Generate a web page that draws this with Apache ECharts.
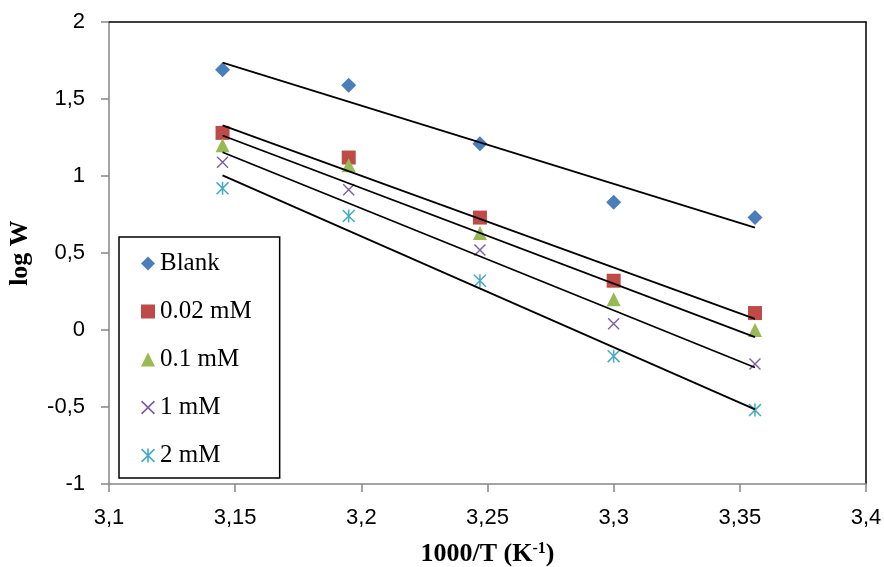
<!DOCTYPE html>
<html lang="en">
<head>
    <meta charset="UTF-8">
    <title>log W vs 1000/T</title>
    <script src="https://cdn.jsdelivr.net/npm/echarts@6/dist/echarts.min.js"></script>
</head>
<style>
    html, body { margin: 0; padding: 0; background: #ffffff; }
    #chart { width: 884px; height: 567px; }
</style>
<body>
<div id="chart"></div>
<script type="text/javascript">
    // 1000/T values (K^-1)
    const invT = [3.145, 3.195, 3.247, 3.300, 3.356];
    // log W for each concentration
    const blank = [1.69, 1.59, 1.21, 0.83, 0.73];
    const c002 = [1.28, 1.12, 0.73, 0.32, 0.11];
    const c01 = [1.20, 1.07, 0.63, 0.20, 0.00];
    const c1 = [1.09, 0.91, 0.52, 0.04, -0.22];
    const c2 = [0.92, 0.74, 0.32, -0.17, -0.52];
    const names = ['Blank', '0.02 mM', '0.1 mM', '1 mM', '2 mM'];
    const values = [blank, c002, c01, c1, c2];
    const colors = ['#4A7EBB', '#BE4B48', '#98B954', '#7D60A0', '#46AAC5'];

    // markers: diamond, square, triangle, x, asterisk
    const xPath = 'path://M0,1L1,0L12,11L11,12Z M11,0L12,1L1,12L0,11Z';
    const starPath = 'path://M0,1L1,0L12,11L11,12Z M11,0L12,1L1,12L0,11Z M5.3,0L6.7,0L6.7,12L5.3,12Z';
    const symbols = ['diamond', 'rect', 'triangle', xPath, starPath];
    const sizes = [15, 14, 14, 12, 13];

    // least-squares trend line over the data range
    function trend(xs, ys) {
        let n = xs.length, mx = 0, my = 0;
        for (let i = 0; i < n; i++) { mx += xs[i]; my += ys[i]; }
        mx /= n; my /= n;
        let sxy = 0, sxx = 0;
        for (let i = 0; i < n; i++) {
            sxy += (xs[i] - mx) * (ys[i] - my);
            sxx += (xs[i] - mx) * (xs[i] - mx);
        }
        const b = sxy / sxx, a = my - b * mx;
        return [[xs[0], a + b * xs[0]], [xs[n - 1], a + b * xs[n - 1]]];
    }

    const comma = function (v) { return String(+v.toFixed(2)).replace('.', ','); };
    const tickFont = {fontFamily: 'Liberation Sans', fontSize: 22, color: '#000'};

    let series = [];
    values.forEach(function (ys, i) {
        series.push({
            name: names[i],
            type: 'scatter',
            symbol: symbols[i],
            symbolSize: sizes[i],
            itemStyle: {color: colors[i], opacity: 1},
            data: invT.map(function (x, k) { return [x, ys[k]]; }),
            z: 2
        });
    });
    values.forEach(function (ys, i) {
        series.push({
            name: 'trend ' + names[i],
            type: 'line',
            symbol: 'none',
            silent: true,
            lineStyle: {color: '#000', width: 1.8},
            data: trend(invT, ys),
            z: 5
        });
    });

    let myChart = echarts.init(document.getElementById('chart'));
    myChart.setOption({
        animation: false,
        grid: {left: 109, right: 18, top: 22, bottom: 83, containLabel: false, outerBoundsMode: 'none'},
        legend: {
            data: names,
            orient: 'vertical',
            left: 119,
            top: 237,
            padding: [14, 28, 10, 22],
            itemGap: 23,
            itemWidth: 14,
            itemHeight: 14,
            borderColor: '#000',
            borderWidth: 1.5,
            textStyle: {fontFamily: 'Liberation Serif', fontSize: 25, color: '#000'}
        },
        xAxis: [{
            type: 'value',
            min: 3.1,
            max: 3.4,
            interval: 0.05,
            name: '1000/T (K{sup|-1})',
            nameLocation: 'middle',
            nameGap: 57,
            nameTextStyle: {
                fontFamily: 'Liberation Serif', fontSize: 26, fontWeight: 'bold', color: '#000',
                rich: {sup: {fontFamily: 'Liberation Serif', fontSize: 16, fontWeight: 'bold', verticalAlign: 'top', padding: [0, 0, 10, 0]}}
            },
            axisLine: {onZero: false, lineStyle: {color: '#868686', width: 1.5}},
            axisTick: {show: true, inside: false, length: 8, lineStyle: {color: '#868686', width: 1.5}},
            axisLabel: Object.assign({margin: 23, formatter: comma}, tickFont),
            splitLine: {show: false}
        }, {
            type: 'value', position: 'top', min: 3.1, max: 3.4,
            axisLine: {show: true, onZero: false, lineStyle: {color: '#000', width: 1.5}},
            axisTick: {show: false}, axisLabel: {show: false}, splitLine: {show: false}
        }],
        yAxis: [{
            type: 'value',
            min: -1,
            max: 2,
            interval: 0.5,
            name: 'log W',
            nameLocation: 'middle',
            nameGap: 76,
            nameTextStyle: {fontFamily: 'Liberation Serif', fontSize: 26, fontWeight: 'bold', color: '#000'},
            axisLine: {onZero: false, lineStyle: {color: '#868686', width: 1.5}},
            axisTick: {show: true, inside: false, length: 8, lineStyle: {color: '#868686', width: 1.5}},
            axisLabel: Object.assign({margin: 24, formatter: comma}, tickFont),
            splitLine: {show: false}
        }, {
            type: 'value', position: 'right', min: -1, max: 2,
            axisLine: {show: true, onZero: false, lineStyle: {color: '#000', width: 1.5}},
            axisTick: {show: false}, axisLabel: {show: false}, splitLine: {show: false}
        }],
        series: series
    });
</script>
</body>
</html>
